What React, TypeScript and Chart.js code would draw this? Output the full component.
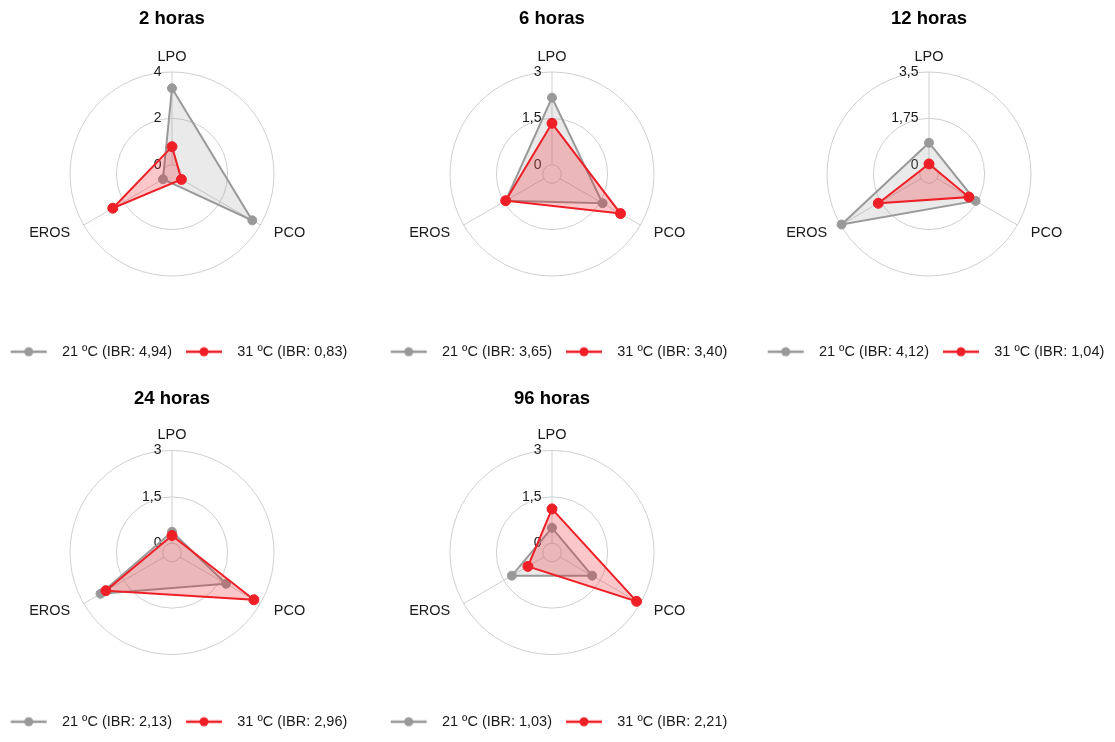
import React, { useEffect, useRef } from 'react';
import { Chart, registerables } from 'chart.js';

Chart.register(...registerables);
Chart.defaults.font.family = "'Liberation Sans', Arial, sans-serif";

// ---- data ----
const AXES = ['LPO', 'PCO', 'EROS'];
const PERIODS = ['2 horas', '6 horas', '12 horas', '24 horas', '96 horas'];
const SCALE_MAX = [4, 3, 3.5, 3, 3];
const SERIES = ['21 ºC', '31 ºC'];
const VALUES_21 = [
  [3.3, 3.6, 0.05],
  [2.17, 1.59, 1.43],
  [0.83, 1.68, 3.46],
  [0.37, 1.72, 2.37],
  [0.5, 1.2, 1.2],
];
const VALUES_31 = [
  [0.78, 0.07, 2.55],
  [1.34, 2.26, 1.43],
  [0.03, 1.39, 1.86],
  [0.25, 2.76, 2.17],
  [1.11, 2.86, 0.6],
];
const IBR_21 = ['4,94', '3,65', '4,12', '2,13', '1,03'];
const IBR_31 = ['0,83', '3,40', '1,04', '2,96', '2,21'];

// ---- look ----
const GRAY = '#999999';
const GRAY_FILL = 'rgba(150,150,150,0.2)';
const RED = '#EE1F26';
const RED_FILL = 'rgba(238,31,38,0.25)';
const GRID = '#cfcfcf';
const TEXT = '#1a1a1a';

// ---- layout ----
const PANEL_W = 372;
const COL_CENTER = [172, 552, 929];
const ROW_TOP = [0, 380];
const ROW_H = [369, 359];
const CENTER_Y = [174, 172.5];
const RADIUS = 102;
const INNER_FRACTION = 0.1; // the zero ring sits slightly off the centre

const fmt = (v: number) => String(v).replace('.', ',');

function makeMarker(color: string) {
  const c = document.createElement('canvas');
  c.width = 58;
  c.height = 12;
  const g = c.getContext('2d')!;
  g.strokeStyle = color;
  g.lineWidth = 2.5;
  g.beginPath();
  g.moveTo(14, 6);
  g.lineTo(50, 6);
  g.stroke();
  g.fillStyle = color;
  g.beginPath();
  g.arc(32, 6, 4.5, 0, Math.PI * 2);
  g.fill();
  return c;
}

// spokes, ring values and axis names
const radarDecor = {
  id: 'radarDecor',
  beforeDatasetsDraw(chart: any) {
    const s = chart.scales.r;
    const ctx = chart.ctx;
    const n = AXES.length;
    ctx.save();
    ctx.strokeStyle = GRID;
    ctx.lineWidth = 1;
    const r0 = s.getDistanceFromCenterForValue(0);
    for (let i = 0; i < n; i++) {
      const a = s.getPointPosition(i, r0);
      const b = s.getPointPosition(i, s.drawingArea);
      ctx.beginPath();
      ctx.moveTo(a.x, a.y);
      ctx.lineTo(b.x, b.y);
      ctx.stroke();
    }
    ctx.fillStyle = TEXT;
    ctx.font = "14px 'Liberation Sans', Arial, sans-serif";
    ctx.textAlign = 'right';
    ctx.textBaseline = 'middle';
    s.ticks.forEach((t: any) => {
      if (t.value < 0) return;
      const d = s.getDistanceFromCenterForValue(t.value);
      ctx.fillText(t.label, s.xCenter - 10.5, s.yCenter - d);
    });
    ctx.font = "14.5px 'Liberation Sans', Arial, sans-serif";
    const aligns = ['center', 'left', 'right'];
    for (let i = 0; i < n; i++) {
      const p = s.getPointPosition(i, s.drawingArea + 15.5);
      ctx.textAlign = aligns[i];
      ctx.fillText(AXES[i], p.x, p.y);
    }
    ctx.restore();
  },
};

function RadarPanel({ index }: { index: number }) {
  const ref = useRef<HTMLCanvasElement>(null);
  const col = index % 3;
  const row = Math.floor(index / 3);

  useEffect(() => {
    const max = SCALE_MAX[index];
    const min = -max * INNER_FRACTION;
    const markers = [makeMarker(GRAY), makeMarker(RED)];
    const chart = new Chart(ref.current!, {
      type: 'radar',
      data: {
        labels: AXES,
        datasets: [
          {
            label: `${SERIES[0]} (IBR: ${IBR_21[index]})`,
            data: VALUES_21[index],
            borderColor: GRAY,
            backgroundColor: GRAY_FILL,
            pointBackgroundColor: GRAY,
            pointBorderColor: GRAY,
            pointRadius: 4.5,
            pointBorderWidth: 1,
            borderWidth: 2,
            fill: 'start',
            order: 1,
          },
          {
            label: `${SERIES[1]} (IBR: ${IBR_31[index]})`,
            data: VALUES_31[index],
            borderColor: RED,
            backgroundColor: RED_FILL,
            pointBackgroundColor: RED,
            pointBorderColor: RED,
            pointRadius: 5,
            pointBorderWidth: 1,
            borderWidth: 2,
            fill: 'start',
            order: 0,
          },
        ],
      },
      options: {
        responsive: false,
        animation: false,
        events: [],
        layout: { padding: 0 },
        plugins: {
          title: {
            display: true,
            text: PERIODS[index],
            color: '#000',
            font: { size: 18.5, weight: 'bold' },
            padding: { top: 8, bottom: 10 },
          },
          legend: {
            position: 'bottom',
            labels: {
              usePointStyle: true,
              pointStyleWidth: 58,
              padding: 0,
              color: TEXT,
              font: { size: 14.5 },
              generateLabels: (ch: any) =>
                ch.data.datasets.map((ds: any, i: number) => ({
                  text: ds.label,
                  pointStyle: markers[i],
                  fillStyle: ds.borderColor,
                  strokeStyle: ds.borderColor,
                  lineWidth: 0,
                  hidden: false,
                  datasetIndex: i,
                  fontColor: TEXT,
                })),
            },
          },
          tooltip: { enabled: false },
        },
        scales: {
          r: {
            min,
            max,
            grid: { circular: true, color: GRID, lineWidth: 1 },
            angleLines: { display: false },
            pointLabels: { display: false },
            ticks: { display: false, callback: (v: any) => fmt(Number(v)) },
            afterBuildTicks: (s: any) => {
              s.ticks = [min, 0, max / 2, max].map((value) => ({ value }));
            },
            afterFit: (s: any) => {
              s.xCenter = PANEL_W / 2;
              s.yCenter = CENTER_Y[row];
              s.drawingArea = RADIUS;
            },
          },
        },
      } as any,
      plugins: [radarDecor],
    });
    return () => chart.destroy();
  }, [index, row]);

  return (
    <canvas
      ref={ref}
      width={PANEL_W}
      height={ROW_H[row]}
      style={{
        position: 'absolute',
        left: COL_CENTER[col] - PANEL_W / 2,
        top: ROW_TOP[row],
        width: PANEL_W,
        height: ROW_H[row],
      }}
    />
  );
}

export default function App() {
  return (
    <div
      style={{
        position: 'fixed',
        left: 0,
        top: 0,
        width: 1115,
        height: 742,
        overflow: 'hidden',
        background: '#fff',
      }}
    >
      {PERIODS.map((p, i) => (
        <RadarPanel key={p} index={i} />
      ))}
    </div>
  );
}
